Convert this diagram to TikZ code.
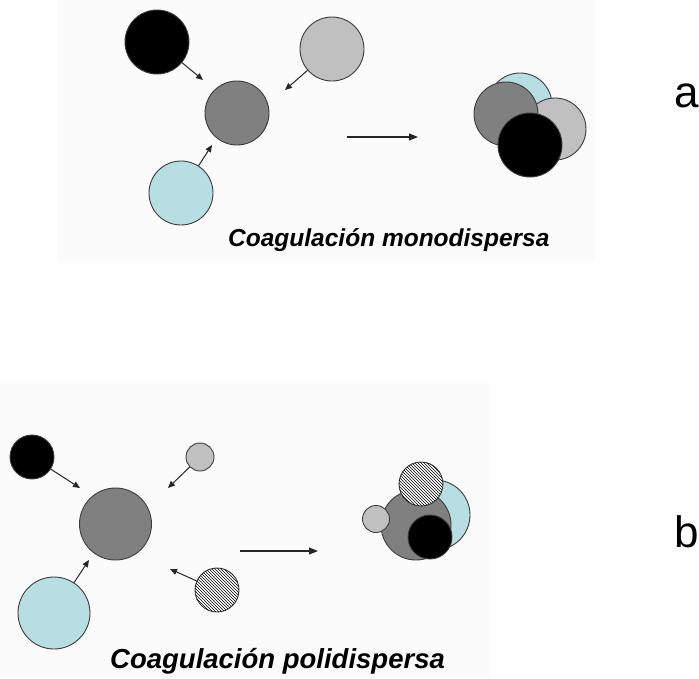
\documentclass[tikz,border=0pt]{standalone}
\usepackage{fontspec}
\setmainfont{Liberation Sans}
\usetikzlibrary{arrows.meta,patterns}
\definecolor{pblue}{RGB}{183,222,226}
\definecolor{pdark}{RGB}{128,128,128}
\definecolor{plight}{RGB}{192,192,192}
\definecolor{pline}{RGB}{60,60,60}
\definecolor{panelbg}{RGB}{251,251,251}
\begin{document}
\begin{tikzpicture}[x=1pt,y=-1pt,
  particle/.style={circle,draw=pline,line width=0.9pt,inner sep=0pt,minimum size=#1},
  small/.style={-{Triangle[length=7pt,width=6pt]},line width=1pt,black!85},
  big/.style={-{Triangle[length=9pt,width=7pt]},line width=1.1pt,black!85},
  caption/.style={anchor=base west,inner sep=0pt,font=\fontsize{#1}{#1}\selectfont\bfseries\itshape},
  letter/.style={anchor=base west,inner sep=0pt,font=\fontsize{44}{50}\selectfont}]
\useasboundingbox (0,0) rectangle (699,678);
\fill[white] (0,0) rectangle (699,678);
% faint panels
\fill[panelbg] (57,0) rectangle (595,262);
\fill[panelbg] (0,383) rectangle (490,678);

% ---------- top: monodisperse ----------
\node[particle=64pt,fill=black] (blk) at (157,42) {};
\node[particle=64pt,fill=plight] (lg) at (332,49) {};
\node[particle=64pt,fill=pdark] (dg) at (237,113) {};
\node[particle=64pt,fill=pblue] (lb) at (181,193) {};
\coordinate (t1) at (203,80);
\coordinate (t2) at (285,90);
\coordinate (t3) at (212,145);
\draw[small] (blk) -- (t1);
\draw[small] (lg) -- (t2);
\draw[small] (lb) -- (t3);
\coordinate (m1s) at (347,137);
\coordinate (m1e) at (418,137);
\draw[big] (m1s) -- (m1e);
% aggregate a
\node[particle=64pt,fill=pblue] (alb) at (520,105) {};
\node[particle=62pt,fill=plight] (alg) at (555,129) {};
\node[particle=64pt,fill=pdark] (adg) at (506,114) {};
\node[particle=64pt,fill=black] (ablk) at (530,145) {};
\node[caption=24.5] (capa) at (228,246) {Coagulación monodispersa};
\node[letter] (la) at (674,107) {a};

% ---------- bottom: polydisperse ----------
\node[particle=44pt,fill=black] (bblk) at (32,457) {};
\node[particle=28pt,fill=plight] (blg) at (200,457) {};
\node[particle=72pt,fill=pdark] (bdg) at (115.5,524) {};
\node[particle=72pt,fill=pblue] (blb) at (54,613) {};
\node[particle=44pt,fill=white,postaction={pattern=north west lines,pattern color=black}] (bh) at (217,590) {};
\coordinate (u1) at (80,488);
\coordinate (u2) at (168,488);
\coordinate (u3) at (89,560);
\coordinate (u4) at (170,569);
\draw[small] (bblk) -- (u1);
\draw[small] (blg) -- (u2);
\draw[small] (blb) -- (u3);
\draw[small] (bh) -- (u4);
\coordinate (m2s) at (240,551);
\coordinate (m2e) at (318,551);
\draw[big] (m2s) -- (m2e);
% aggregate b
\node[particle=70pt,fill=pblue] (cblb) at (435,515) {};
\node[particle=70pt,fill=pdark] (cdg) at (416,525) {};
\node[particle=27pt,fill=plight] (clg) at (376,519) {};
\node[particle=44pt,fill=white,postaction={pattern=north west lines,pattern color=black}] (ch) at (421,484) {};
\node[particle=44pt,fill=black] (cblk) at (430,537) {};
\node[caption=27.5] (capb) at (110,668) {Coagulación polidispersa};
\node[letter] (lb2) at (674,547) {b};
\end{tikzpicture}
\end{document}
